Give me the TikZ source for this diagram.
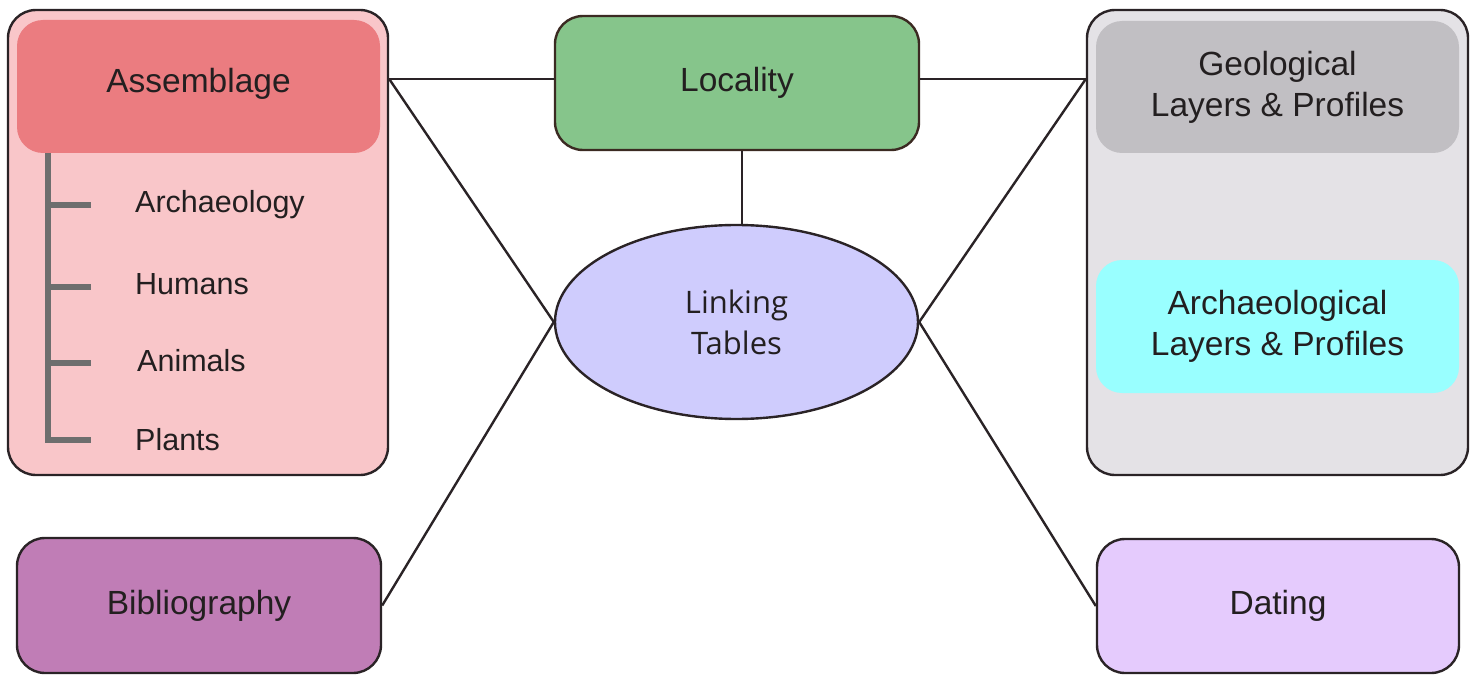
\documentclass[tikz,border=0pt]{standalone}
\usepackage{fontspec}
\setmainfont{Liberation Sans}
\newfontfamily\segfont{Open Sans}
\usetikzlibrary{shapes.geometric}
\definecolor{linec}{HTML}{2A2326}
\definecolor{txtc}{HTML}{231F20}
\definecolor{asmout}{HTML}{F9C6C9}
\definecolor{asmhead}{HTML}{EB7C80}
\definecolor{geoout}{HTML}{E4E2E6}
\definecolor{geohead}{HTML}{C1BFC3}
\definecolor{archc}{HTML}{99FFFF}
\definecolor{locc}{HTML}{86C58B}
\definecolor{locline}{HTML}{3B2A22}
\definecolor{ellc}{HTML}{CFCCFD}
\definecolor{bibc}{HTML}{C07DB6}
\definecolor{datc}{HTML}{E5CBFD}
\definecolor{treec}{HTML}{6E6E6E}
\tikzset{
  boxnode/.style={draw=linec, line width=2.4pt, rounded corners=28pt, inner sep=0pt, text=txtc},
  headnode/.style={rounded corners=26pt, inner sep=0pt, text=txtc, align=center},
  bigtext/.style={font=\fontsize{33.5}{41}\selectfont},
  itemtext/.style={font=\fontsize{30.5}{36}\selectfont, text=txtc, inner sep=0pt, anchor=base west},
  conn/.style={draw=linec, line width=2.4pt},
  treeline/.style={draw=treec, line width=5.5pt},
}
\begin{document}
\begin{tikzpicture}[x=1pt,y=-1pt]
\useasboundingbox (0,0) rectangle (1476,682);
% Left container
\node[boxnode, fill=asmout, minimum width=380pt, minimum height=465pt] (asmbox) at (198,242.5) {};
\node[headnode, bigtext, fill=asmhead, minimum width=363pt, minimum height=133pt, text depth=13pt] (asmhead) at (198.5,86.5) {Assemblage};
% tree
\coordinate (ttop) at (48,153);
\coordinate (tbot) at (48,440);
\draw[treeline] (ttop) -- (tbot) -- (91,440);
\draw[treeline] (48,205) -- (91,205);
\draw[treeline] (48,287) -- (91,287);
\draw[treeline] (48,363) -- (91,363);
\node[itemtext] (arch) at (135,212) {Archaeology};
\node[itemtext] (hum) at (135,294) {Humans};
\node[itemtext] (ani) at (137,371) {Animals};
\node[itemtext] (pla) at (135,450) {Plants};
% Right container
\node[boxnode, fill=geoout, minimum width=381pt, minimum height=465pt] (geobox) at (1277.5,242.5) {};
\node[headnode, bigtext, fill=geohead, minimum width=363pt, minimum height=132pt] (geohead) at (1277.5,87) {Geological\\Layers \& Profiles};
\node[headnode, bigtext, fill=archc, minimum width=363pt, minimum height=133pt] (archhead) at (1277.5,326.5) {Archaeological\\Layers \& Profiles};
% Locality
\node[boxnode, bigtext, draw=locline, fill=locc, minimum width=364pt, minimum height=134pt] (loc) at (737,83) {Locality};
% Ellipse
\node[ellipse, draw=linec, line width=2.4pt, fill=ellc, minimum width=363pt, minimum height=194pt, inner sep=0pt, align=center, text=txtc, font=\segfont\fontsize{31}{41}\selectfont] (link) at (736.5,322) {Linking\\Tables};
% Bibliography & Dating
\node[boxnode, bigtext, fill=bibc, minimum width=364pt, minimum height=135pt] (bib) at (199,605.5) {Bibliography};
\node[boxnode, bigtext, fill=datc, minimum width=362pt, minimum height=134pt] (dat) at (1278,606) {Dating};
% connectors
\coordinate (aL) at (asmbox.east |- 0,79);
\coordinate (aR) at (geobox.west |- 0,79);
\draw[conn] (aL) -- (loc.west |- aL);
\draw[conn] (aL) -- (link.west);
\draw[conn] (loc.east |- aR) -- (aR);
\draw[conn] (aR) -- (link.east);
\draw[conn] (loc.south -| 742,0) -- (link.north -| 742,0);
\draw[conn] (bib.east) -- (link.west);
\draw[conn] (dat.west) -- (link.east);
\end{tikzpicture}
\end{document}
